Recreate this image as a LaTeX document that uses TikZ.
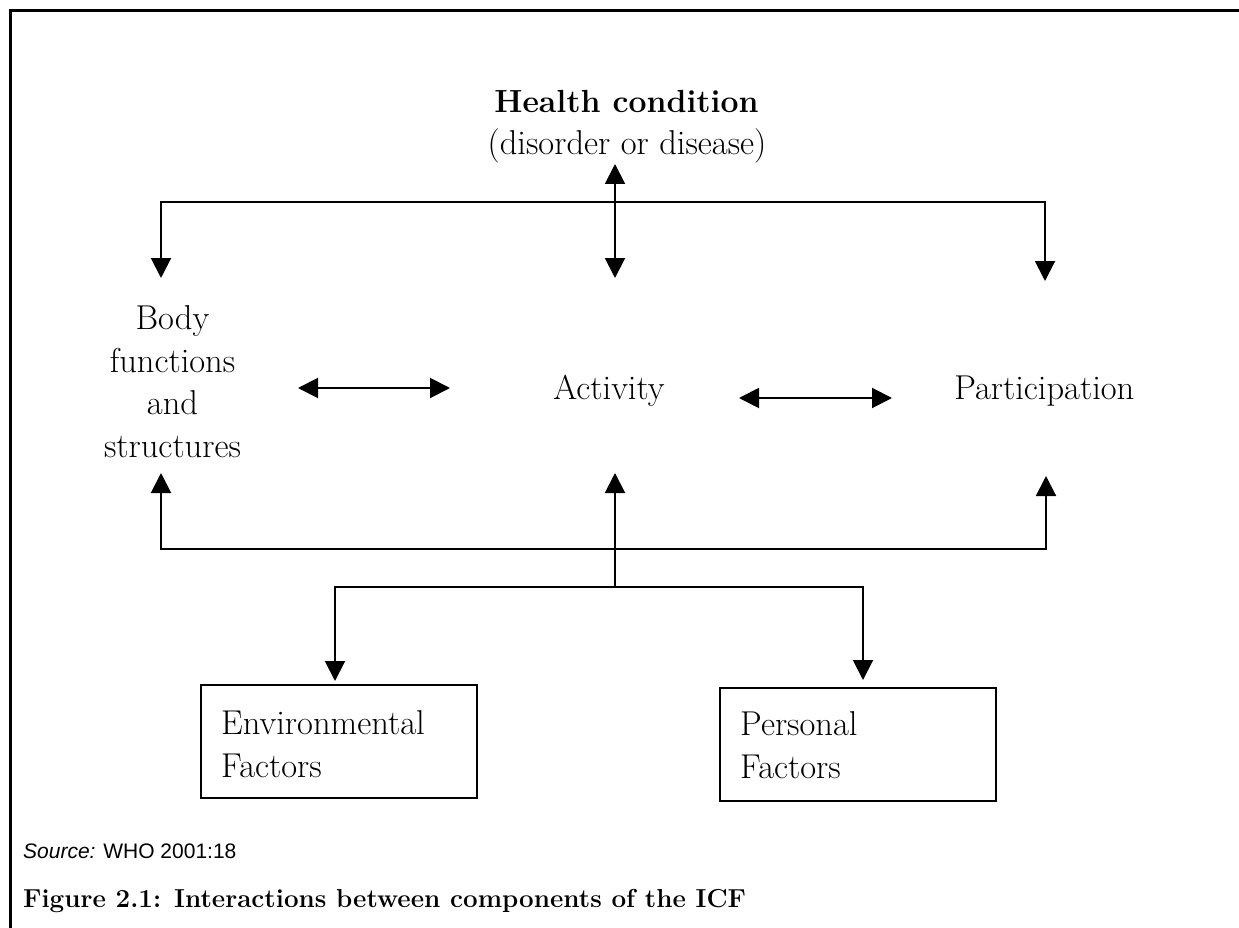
\documentclass[tikz,border=0pt]{standalone}
\usepackage{fontspec}
\newfontfamily\srcfont{Liberation Sans}
\usetikzlibrary{arrows.meta}
\tikzset{
  lbl/.style={font=\fontsize{34.5}{42.5}\selectfont, inner sep=0pt},
  conn/.style={line width=2pt, arrows={-Triangle[length=20pt,width=20pt]}},
  both/.style={line width=2pt, arrows={Triangle[length=20pt,width=20pt]-Triangle[length=20pt,width=20pt]}},
  factor/.style={draw, line width=2pt, minimum width=276pt, inner sep=0pt},
}
\begin{document}
\begin{tikzpicture}[x=1pt,y=-1pt]
\useasboundingbox (0,0) rectangle (1239,928);
\draw[line width=3pt] (10,928) -- (10,11) -- (1239,11);

\node[lbl, anchor=base, font=\fontsize{32}{40}\selectfont\bfseries] (hc) at (626.5,113) {Health condition};
\node[lbl, anchor=base] (hcd) at (627,155) {(disorder or disease)};
\node[lbl, anchor=base, align=center] (body) at (172.5,457) {Body\\functions\\and\\structures};
\node[lbl, anchor=base] (act) at (609,399) {Activity};
\node[lbl, anchor=base] (par) at (1044.3,399) {Participation};

\node[factor, minimum height=113pt] (envbox) at (339,741.5) {};
\node[factor, minimum height=113pt] (perbox) at (857.5,744.5) {};
\node[lbl, anchor=base west, align=left] (envt) at (221,777) {Environmental\\Factors};
\node[lbl, anchor=base west, align=left] (pert) at (740,778) {Personal\\Factors};

\node[anchor=base west, inner sep=0pt, font=\srcfont\fontsize{21}{25}\selectfont] (src) at (23,858) {\textit{Source:} WHO 2001:18};
\node[anchor=base west, inner sep=0pt, font=\fontsize{26}{30}\selectfont\bfseries] (cap) at (23,907) {Figure 2.1: Interactions between components of the ICF};

% top bracket
\coordinate (tbl) at (161,278);
\coordinate (tjr) at (1045,202);
\coordinate (tbr) at (1045,281);
\draw[both] (tbl) |- (tjr) -- (tbr);
\coordinate (mt) at (615,164);
\coordinate (mb) at (615,278);
\draw[both] (mt) -- (mb);

% horizontal
\coordinate (h1a) at (298,388);
\coordinate (h1b) at (450,388);
\draw[both] (h1a) -- (h1b);
\coordinate (h2a) at (739,398);
\coordinate (h2b) at (892,398);
\draw[both] (h2a) -- (h2b);

% lower bracket
\coordinate (lbl) at (161,473);
\coordinate (ljr) at (1046,549);
\coordinate (lbr) at (1046,476);
\draw[both] (lbl) |- (ljr) -- (lbr);
\coordinate (lm) at (615,587);
\coordinate (lmt) at (615,473);
\draw[conn] (lm) -- (lmt);
\coordinate (el) at (335,681);
\coordinate (ejr) at (863,587);
\coordinate (er) at (863,680);
\draw[both] (el) |- (ejr) -- (er);
\end{tikzpicture}
\end{document}
